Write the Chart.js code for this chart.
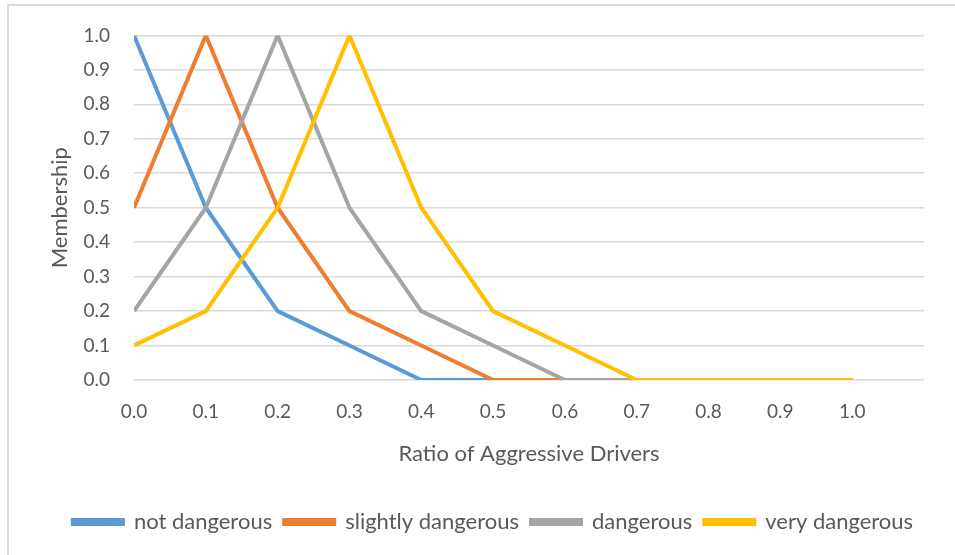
<!DOCTYPE html>
<html lang="en">
<head>
    <meta charset="UTF-8">
    <title>Membership Functions</title>
    <script src="https://cdn.jsdelivr.net/npm/chart.js"></script>
    <style>
        html, body {
            margin: 0;
            padding: 0;
            background: #ffffff;
            overflow: hidden;
        }
        .frame {
            position: absolute;
            left: 7px;
            top: 4px;
            width: 960px;
            height: 560px;
            border-left: 2px solid #d9d9d9;
            border-top: 2px solid #d9d9d9;
        }
        .chart-container {
            position: absolute;
            left: 0;
            top: 0;
            width: 955px;
            height: 555px;
        }
    </style>
</head>
<body>
    <div class="frame"></div>
    <div class="chart-container">
        <canvas id="membershipChart"></canvas>
    </div>

    <script>
        // ratio of aggressive drivers (x) and membership values per fuzzy set
        const ratios = [0.0, 0.1, 0.2, 0.3, 0.4, 0.5, 0.6, 0.7, 0.8, 0.9, 1.0];
        const notDangerous = [1.0, 0.5, 0.2, 0.1, 0.0, 0.0, 0.0, 0.0, 0.0, 0.0, 0.0];
        const slightlyDangerous = [0.5, 1.0, 0.5, 0.2, 0.1, 0.0, 0.0, 0.0, 0.0, 0.0, 0.0];
        const dangerous = [0.2, 0.5, 1.0, 0.5, 0.2, 0.1, 0.0, 0.0, 0.0, 0.0, 0.0];
        const veryDangerous = [0.1, 0.2, 0.5, 1.0, 0.5, 0.2, 0.1, 0.0, 0.0, 0.0, 0.0];

        const textColor = '#595959';
        const fontFamily = 'Lato, "Open Sans", sans-serif';

        function series(label, values, color, order) {
            return {
                label: label,
                data: values.map((v, i) => ({ x: ratios[i], y: v })),
                borderColor: color,
                backgroundColor: color,
                borderWidth: 4,
                pointRadius: 0,
                tension: 0,
                order: order // later series drawn on top, like Excel
            };
        }

        // nudge the legend right so it sits where the original one does
        const legendShift = {
            id: 'legendShift',
            afterLayout(chart) {
                chart.legend.left += 31;
                chart.legend.right += 31;
            }
        };

        const ctx = document.getElementById('membershipChart').getContext('2d');
        new Chart(ctx, {
            type: 'line',
            data: {
                datasets: [
                    series('not dangerous', notDangerous, '#5b9bd5', 3),
                    series('slightly dangerous', slightlyDangerous, '#ed7d31', 2),
                    series('dangerous', dangerous, '#a5a5a5', 1),
                    series('very dangerous', veryDangerous, '#ffc000', 0)
                ]
            },
            options: {
                responsive: true,
                maintainAspectRatio: false,
                animation: false,
                layout: {
                    padding: { top: 35, right: 31, left: 0, bottom: 12 }
                },
                plugins: {
                    legend: {
                        position: 'bottom',
                        labels: {
                            color: textColor,
                            boxWidth: 50,
                            boxHeight: 4,
                            padding: 12,
                            font: { family: fontFamily, size: 22 },
                            sort: (a, b) => a.datasetIndex - b.datasetIndex
                        }
                    },
                    tooltip: { enabled: false }
                },
                scales: {
                    x: {
                        type: 'linear',
                        min: 0,
                        max: 1.1,
                        grid: { display: false },
                        border: { display: false },
                        ticks: {
                            stepSize: 0.1,
                            color: textColor,
                            padding: 12,
                            maxRotation: 0,
                            font: { family: fontFamily, size: 19 },
                            callback: (value) => value > 1.0001 ? '' : value.toFixed(1)
                        },
                        title: {
                            display: true,
                            text: 'Ratio of Aggressive Drivers',
                            color: textColor,
                            font: { family: fontFamily, size: 22 },
                            padding: { top: 0, bottom: 32 }
                        },
                        afterFit: (scale) => { scale.height = 119; }
                    },
                    y: {
                        min: 0,
                        max: 1,
                        grid: {
                            color: '#d9d9d9',
                            lineWidth: 1.5,
                            drawTicks: false
                        },
                        border: { display: false },
                        ticks: {
                            stepSize: 0.1,
                            color: textColor,
                            padding: 24,
                            font: { family: fontFamily, size: 19 },
                            callback: (value) => value.toFixed(1)
                        },
                        title: {
                            display: true,
                            text: 'Membership',
                            color: textColor,
                            font: { family: fontFamily, size: 22 },
                            padding: { top: 47, bottom: 0 }
                        },
                        afterFit: (scale) => { scale.width = 134; }
                    }
                }
            },
            plugins: [legendShift]
        });
    </script>
</body>
</html>
